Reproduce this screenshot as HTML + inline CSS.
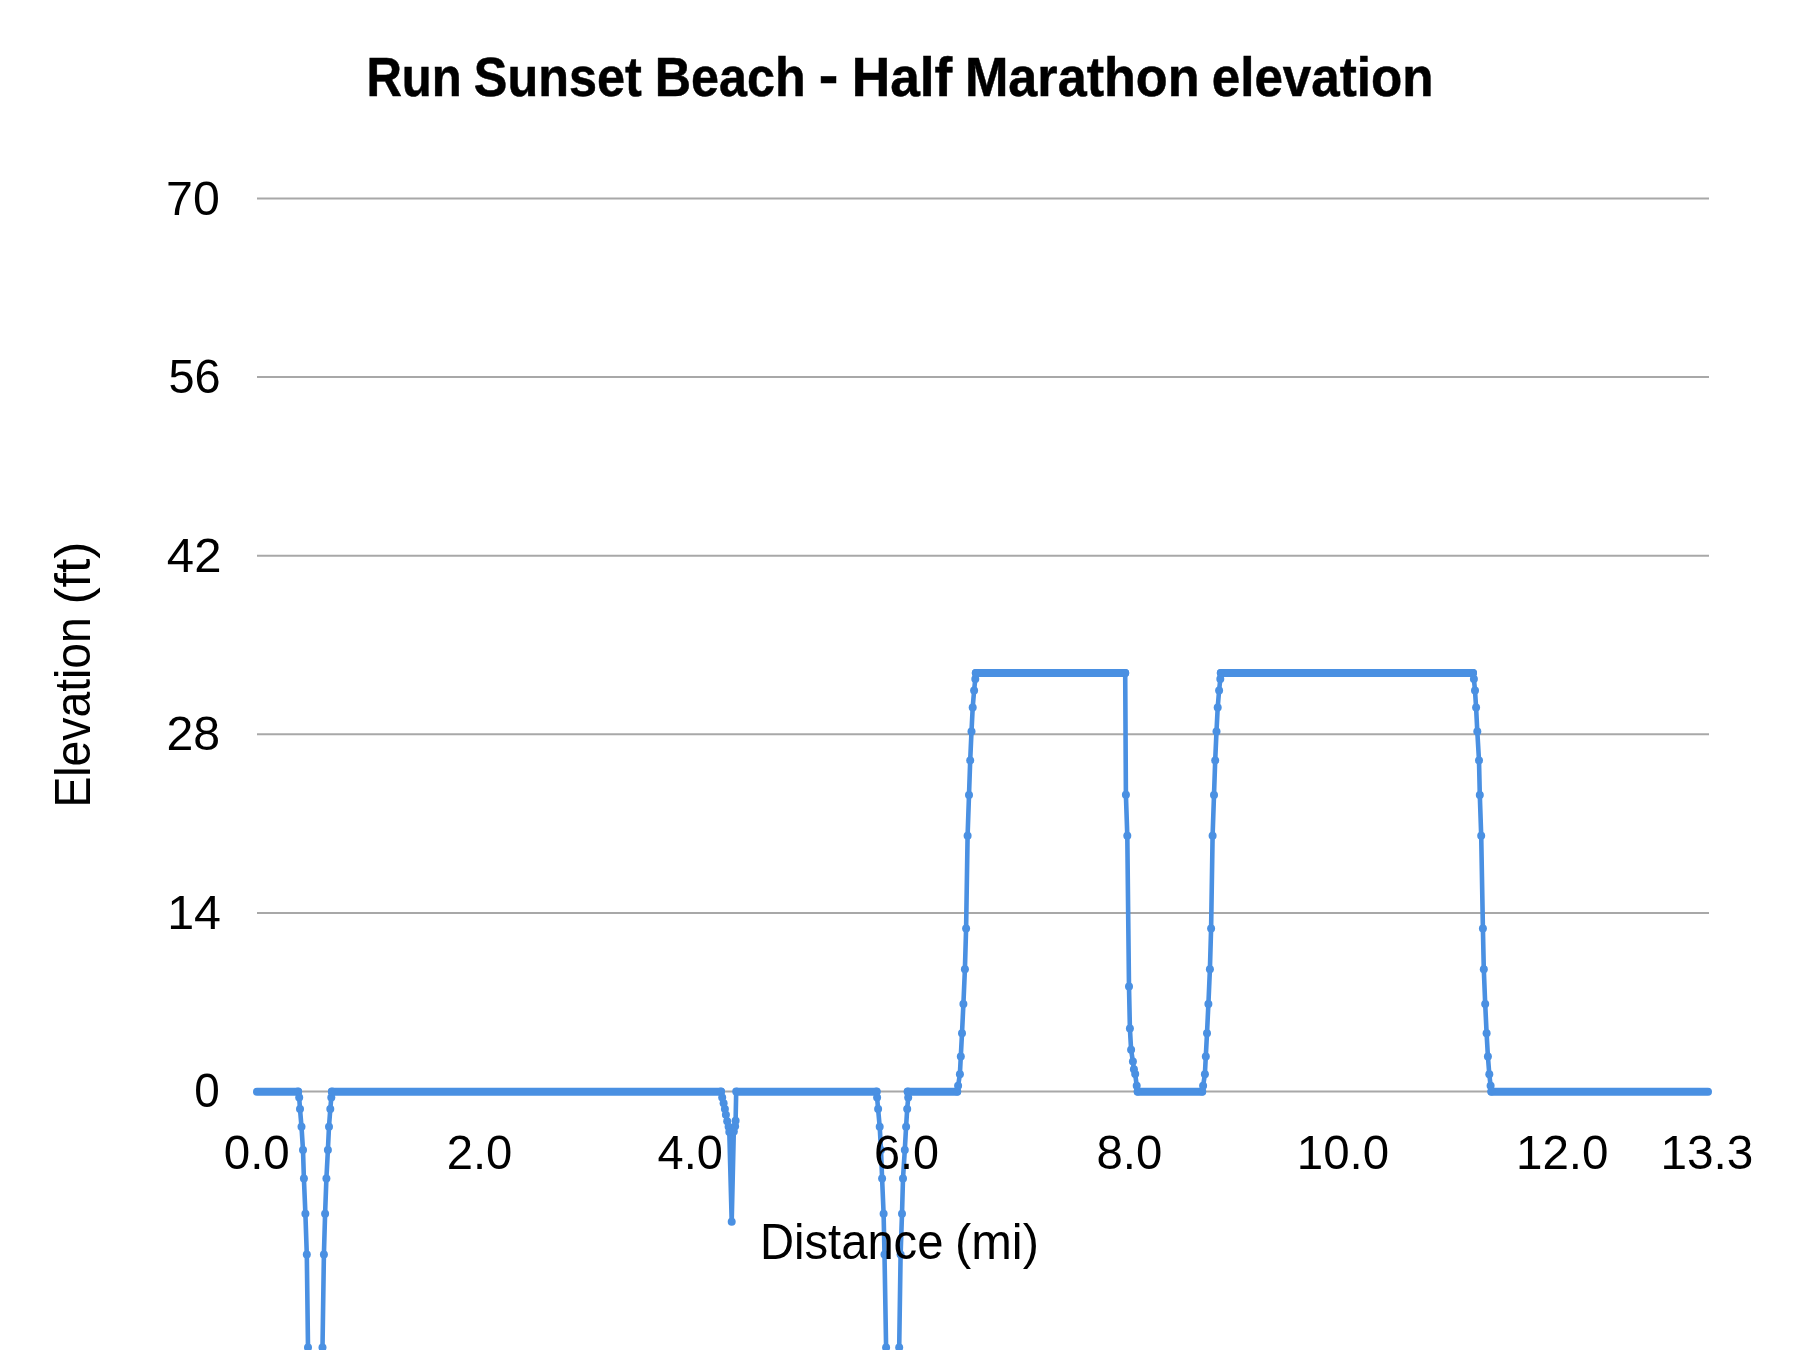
<!DOCTYPE html>
<html><head><meta charset="utf-8"><style>
html,body{margin:0;padding:0;background:#fff;width:1800px;height:1350px;overflow:hidden}
svg{display:block;will-change:transform}
text{font-family:"Liberation Sans",sans-serif;fill:#000}
</style></head><body>
<svg width="1800" height="1350" viewBox="0 0 1800 1350">
<rect width="1800" height="1350" fill="#fff"/>
<g stroke="#a8a8a8" stroke-width="2"><line x1="257" y1="198.5" x2="1709" y2="198.5"/><line x1="257" y1="377.1" x2="1709" y2="377.1"/><line x1="257" y1="555.7" x2="1709" y2="555.7"/><line x1="257" y1="734.3" x2="1709" y2="734.3"/><line x1="257" y1="912.9" x2="1709" y2="912.9"/><line x1="257" y1="1091.5" x2="1709" y2="1091.5"/></g>
<g fill="none" stroke="#4a90e2" stroke-width="4.6" stroke-linejoin="round" stroke-linecap="round"><path d="M257 1091.5 L298.1 1091.5 L299.2 1097.6 L300 1109 L301.5 1126.7 L303 1150 L303.9 1178.5 L305.4 1213.8 L306.8 1254.6 L308 1347.4 L309.5 1440 L315 1509 L321 1440 L322.5 1347.4 L323.9 1254.6 L325.1 1213.8 L326.4 1178.5 L327.9 1150 L329 1126.7 L330.3 1109 L331.3 1097.6 L331.9 1091.5 L721 1091.5 L722.2 1097.4 L723.6 1103.2 L724.9 1109 L725.9 1114.8 L727.2 1121.2 L728.6 1126.7 L729.3 1132 L731.7 1221.7 L733.8 1131.5 L735.1 1126.3 L735.6 1120.7 L736.2 1091.5 L876.6 1091.5 L877.1 1097.6 L878.1 1109 L879.7 1126.7 L881 1150 L882.1 1178.5 L883.6 1213.8 L884.5 1254.6 L886.1 1347.4 L887.5 1440 L892.6 1509 L898 1440 L899.2 1347.4 L900.6 1254.6 L902 1213.8 L903 1178.5 L904.8 1150 L906.1 1126.7 L907.2 1109 L908.2 1097.6 L907.7 1091.5 L957.2 1091.5 L958.1 1085.8 L959.9 1074.2 L960.8 1056.4 L962 1033.3 L963.4 1004 L964.9 969.3 L966.1 928.4 L967.6 835.7 L969 795.1 L970.2 760.4 L971.5 731.4 L972.7 707.6 L974.1 690.5 L975.3 679 L975.8 673 L1125.2 673 L1125.9 794.8 L1127.3 835.7 L1129 986.6 L1129.9 1028.5 L1131.1 1049.7 L1132.9 1061.6 L1133.9 1069.2 L1135.2 1074.1 L1136.7 1085.8 L1137.7 1091.5 L1202.2 1091.5 L1203.1 1085.8 L1204.9 1074.2 L1205.8 1056.4 L1207 1033.3 L1208.4 1004 L1209.9 969.3 L1211.1 928.4 L1212.6 835.7 L1214 795.1 L1215.2 760.4 L1216.5 731.4 L1217.7 707.6 L1219.1 690.5 L1220.3 679 L1220.8 673 L1473 673 L1473.9 679 L1475 690.5 L1476.1 707.6 L1477.3 731.4 L1479 760.4 L1479.8 795.1 L1481.2 835.7 L1482.9 928.4 L1483.8 969.3 L1485.2 1004 L1486.6 1033.3 L1487.9 1056.4 L1489.3 1074.2 L1490.6 1085.8 L1491.4 1091.5 L1708 1091.5"/></g>
<g stroke="#4a90e2" stroke-width="8" stroke-linecap="round"><line x1="257" y1="1091.7" x2="298.1" y2="1091.7"/><line x1="331.9" y1="1091.7" x2="721" y2="1091.7"/><line x1="736.9" y1="1091.7" x2="876.6" y2="1091.7"/><line x1="907.7" y1="1091.7" x2="957.2" y2="1091.7"/><line x1="975.8" y1="673" x2="1125.2" y2="673"/><line x1="1137.7" y1="1091.7" x2="1202.2" y2="1091.7"/><line x1="1220.8" y1="673" x2="1473" y2="673"/><line x1="1491.4" y1="1091.7" x2="1708" y2="1091.7"/></g>
<g fill="#4a90e2"><circle cx="957.2" cy="1091.5" r="4"/><circle cx="958.1" cy="1085.8" r="4"/><circle cx="959.9" cy="1074.2" r="4"/><circle cx="960.8" cy="1056.4" r="4"/><circle cx="962" cy="1033.3" r="4"/><circle cx="963.4" cy="1004" r="4"/><circle cx="964.9" cy="969.3" r="4"/><circle cx="966.1" cy="928.4" r="4"/><circle cx="967.6" cy="835.7" r="4"/><circle cx="969" cy="795.1" r="4"/><circle cx="970.2" cy="760.4" r="4"/><circle cx="971.5" cy="731.4" r="4"/><circle cx="972.7" cy="707.6" r="4"/><circle cx="974.1" cy="690.5" r="4"/><circle cx="975.3" cy="679" r="4"/><circle cx="975.8" cy="673" r="4"/><circle cx="1202.2" cy="1091.5" r="4"/><circle cx="1203.1" cy="1085.8" r="4"/><circle cx="1204.9" cy="1074.2" r="4"/><circle cx="1205.8" cy="1056.4" r="4"/><circle cx="1207" cy="1033.3" r="4"/><circle cx="1208.4" cy="1004" r="4"/><circle cx="1209.9" cy="969.3" r="4"/><circle cx="1211.1" cy="928.4" r="4"/><circle cx="1212.6" cy="835.7" r="4"/><circle cx="1214" cy="795.1" r="4"/><circle cx="1215.2" cy="760.4" r="4"/><circle cx="1216.5" cy="731.4" r="4"/><circle cx="1217.7" cy="707.6" r="4"/><circle cx="1219.1" cy="690.5" r="4"/><circle cx="1220.3" cy="679" r="4"/><circle cx="1220.8" cy="673" r="4"/><circle cx="1125.2" cy="673" r="4"/><circle cx="1125.9" cy="794.8" r="4"/><circle cx="1127.3" cy="835.7" r="4"/><circle cx="1129" cy="986.6" r="4"/><circle cx="1129.9" cy="1028.5" r="4"/><circle cx="1131.1" cy="1049.7" r="4"/><circle cx="1132.9" cy="1061.6" r="4"/><circle cx="1133.9" cy="1069.2" r="4"/><circle cx="1135.2" cy="1074.1" r="4"/><circle cx="1136.7" cy="1085.8" r="4"/><circle cx="1137.7" cy="1091.5" r="4"/><circle cx="1473" cy="673" r="4"/><circle cx="1473.9" cy="679" r="4"/><circle cx="1475" cy="690.5" r="4"/><circle cx="1476.1" cy="707.6" r="4"/><circle cx="1477.3" cy="731.4" r="4"/><circle cx="1479" cy="760.4" r="4"/><circle cx="1479.8" cy="795.1" r="4"/><circle cx="1481.2" cy="835.7" r="4"/><circle cx="1482.9" cy="928.4" r="4"/><circle cx="1483.8" cy="969.3" r="4"/><circle cx="1485.2" cy="1004" r="4"/><circle cx="1486.6" cy="1033.3" r="4"/><circle cx="1487.9" cy="1056.4" r="4"/><circle cx="1489.3" cy="1074.2" r="4"/><circle cx="1490.6" cy="1085.8" r="4"/><circle cx="1491.4" cy="1091.5" r="4"/><circle cx="298.1" cy="1091.5" r="4"/><circle cx="299.2" cy="1097.6" r="4"/><circle cx="300" cy="1109" r="4"/><circle cx="301.5" cy="1126.7" r="4"/><circle cx="303" cy="1150" r="4"/><circle cx="303.9" cy="1178.5" r="4"/><circle cx="305.4" cy="1213.8" r="4"/><circle cx="306.8" cy="1254.6" r="4"/><circle cx="308" cy="1347.4" r="4"/><circle cx="322.5" cy="1347.4" r="4"/><circle cx="323.9" cy="1254.6" r="4"/><circle cx="325.1" cy="1213.8" r="4"/><circle cx="326.4" cy="1178.5" r="4"/><circle cx="327.9" cy="1150" r="4"/><circle cx="329" cy="1126.7" r="4"/><circle cx="330.3" cy="1109" r="4"/><circle cx="331.3" cy="1097.6" r="4"/><circle cx="331.9" cy="1091.5" r="4"/><circle cx="876.6" cy="1091.5" r="4"/><circle cx="877.1" cy="1097.6" r="4"/><circle cx="878.1" cy="1109" r="4"/><circle cx="879.7" cy="1126.7" r="4"/><circle cx="881" cy="1150" r="4"/><circle cx="882.1" cy="1178.5" r="4"/><circle cx="883.6" cy="1213.8" r="4"/><circle cx="884.5" cy="1254.6" r="4"/><circle cx="886.1" cy="1347.4" r="4"/><circle cx="899.2" cy="1347.4" r="4"/><circle cx="900.6" cy="1254.6" r="4"/><circle cx="902" cy="1213.8" r="4"/><circle cx="903" cy="1178.5" r="4"/><circle cx="904.8" cy="1150" r="4"/><circle cx="906.1" cy="1126.7" r="4"/><circle cx="907.2" cy="1109" r="4"/><circle cx="908.2" cy="1097.6" r="4"/><circle cx="907.7" cy="1091.5" r="4"/><circle cx="721" cy="1091.5" r="4"/><circle cx="722.2" cy="1097.4" r="4"/><circle cx="723.6" cy="1103.2" r="4"/><circle cx="724.9" cy="1109" r="4"/><circle cx="725.9" cy="1114.8" r="4"/><circle cx="727.2" cy="1121.2" r="4"/><circle cx="728.6" cy="1126.7" r="4"/><circle cx="729.3" cy="1132" r="4"/><circle cx="731.7" cy="1221.7" r="4"/><circle cx="733.8" cy="1131.5" r="4"/><circle cx="735.1" cy="1126.3" r="4"/><circle cx="735.6" cy="1120.7" r="4"/><circle cx="736.2" cy="1091.5" r="4"/></g>
<g stroke="#000" stroke-width="0.5"><text transform="translate(366.41 95.80) scale(0.8845 1)" font-size="55.50" font-weight="bold">Run</text><text transform="translate(473.79 95.80) scale(0.9080 1)" font-size="55.50" font-weight="bold">Sunset</text><text transform="translate(654.73 95.80) scale(0.9062 1)" font-size="55.50" font-weight="bold">Beach</text><text transform="translate(818.65 94.40) scale(1.0599 1)" font-size="55.50" font-weight="bold">-</text><text transform="translate(851.74 95.80) scale(0.9596 1)" font-size="55.50" font-weight="bold">Half</text><text transform="translate(964.91 95.80) scale(0.9398 1)" font-size="55.50" font-weight="bold">Marathon</text><text transform="translate(1211.75 95.80) scale(0.9220 1)" font-size="55.50" font-weight="bold">elevation</text></g>
<text transform="translate(166.09 214.50) scale(0.9876 1)" font-size="48.90">70</text><text transform="translate(168.42 392.60) scale(0.9590 1)" font-size="48.90">56</text><text transform="translate(166.87 571.70) scale(1.0037 1)" font-size="48.90">42</text><text transform="translate(166.49 750.00) scale(0.9864 1)" font-size="48.90">28</text><text transform="translate(167.17 928.80) scale(0.9901 1)" font-size="48.90">14</text><text transform="translate(194.26 1107.40) scale(0.9385 1)" font-size="48.90">0</text>
<text transform="translate(223.70 1168.60) scale(0.9725 1)" font-size="48.90">0.0</text><text transform="translate(446.64 1168.60) scale(0.9659 1)" font-size="48.90">2.0</text><text transform="translate(657.53 1168.60) scale(0.9600 1)" font-size="48.90">4.0</text><text transform="translate(874.06 1168.60) scale(0.9564 1)" font-size="48.90">6.0</text><text transform="translate(1096.57 1168.60) scale(0.9669 1)" font-size="48.90">8.0</text><text transform="translate(1296.84 1168.60) scale(0.9700 1)" font-size="48.90">10.0</text><text transform="translate(1515.93 1168.60) scale(0.9733 1)" font-size="48.90">12.0</text><text transform="translate(1660.42 1168.60) scale(0.9760 1)" font-size="48.90">13.3</text>
<text transform="translate(759.93 1259.00) scale(0.9510 1)" font-size="49.60">Distance</text><text transform="translate(954.98 1259.00) scale(0.9829 1)" font-size="49.60">(mi)</text><text transform="translate(90.00 807.60) rotate(-90) scale(0.9334 1)" font-size="49.60">Elevation</text><text transform="translate(90.00 604.60) rotate(-90) scale(1.0411 1)" font-size="49.60">(ft)</text>
</svg>
</body></html>
